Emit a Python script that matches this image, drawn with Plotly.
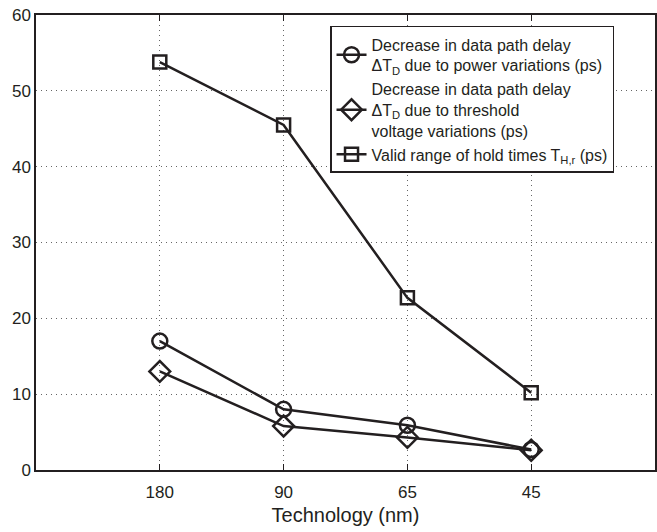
import plotly.graph_objects as go

technology = ["180", "90", "65", "45"]
positions = [1, 2, 3, 4]
power_delay = [17.0, 8.0, 5.9, 2.7]
threshold_delay = [13.0, 5.8, 4.3, 2.6]
hold_range = [53.8, 45.5, 22.7, 10.2]

names = [
    "Decrease in data path delay<br>ΔT<sub>D</sub> due to power variations (ps)",
    "Decrease in data path delay<br>ΔT<sub>D</sub> due to threshold<br>voltage variations (ps)",
    "Valid range of hold times T<sub>H,r</sub> (ps)",
]
symbols = ["circle-open", "diamond-open", "square-open"]
sizes = [15, 16, 13]
series = [power_delay, threshold_delay, hold_range]

col = "#231f20"
fig = go.Figure()
for name, sym, sz, vals in zip(names, symbols, sizes, series):
    fig.add_trace(go.Scatter(
        x=positions, y=vals, mode="lines+markers", name=name,
        line=dict(color=col, width=2.5),
        marker=dict(symbol=sym, size=sz, color=col, line=dict(width=2.5, color=col)),
    ))

font = dict(family="Liberation Sans, Arial, sans-serif", size=17, color=col)
fig.update_layout(
    width=657, height=532,
    margin=dict(l=36, r=0, t=15, b=62),
    paper_bgcolor="white", plot_bgcolor="white",
    font=font,
    showlegend=True,
    legend=dict(
        x=0.475, y=0.976, xanchor="left", yanchor="top",
        bgcolor="white", bordercolor=col, borderwidth=1.5,
        font=dict(family="Liberation Sans, Arial, sans-serif", size=16, color=col),
        tracegroupgap=6, itemwidth=30,
    ),
    xaxis=dict(
        range=[0, 5], tickvals=positions, ticktext=technology,
        showline=True, linecolor=col, linewidth=1.5, mirror="ticks",
        ticks="inside", ticklen=6, tickcolor=col, ticklabelstandoff=6,
        showgrid=True, gridcolor="#666666", griddash="1px,4px", gridwidth=1,
        zeroline=False,
        title=dict(text="Technology (nm)", standoff=7),
    ),
    yaxis=dict(
        range=[0, 60], tickvals=[0, 10, 20, 30, 40, 50, 60],
        showline=True, linecolor=col, linewidth=1.5, mirror=True,
        ticks="", showgrid=True, gridcolor="#666666", griddash="1px,4px", gridwidth=1,
        zeroline=False,
    ),
)

fig.write_html("out.html")
